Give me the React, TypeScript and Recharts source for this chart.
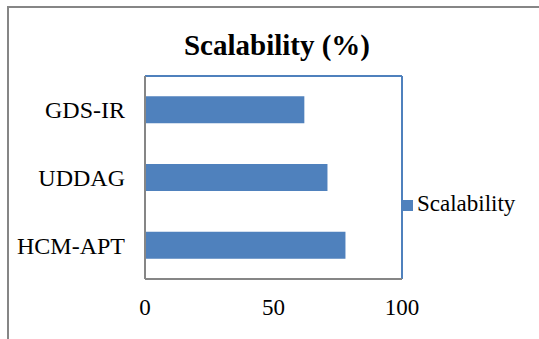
import { Bar, BarChart, CartesianGrid, Legend, XAxis, YAxis } from "recharts";

const methods = ["GDS-IR", "UDDAG", "HCM-APT"];
const scalability = [62, 71, 78];
const xTicks = [0, 50, 100];

const data = methods.map((name, i) => ({ name, scalability: scalability[i] }));

const BLUE = "#4F81BD";
const GREY = "#868686";
const FONT = "'Liberation Serif', 'Times New Roman', Tinos, 'DejaVu Serif', serif";

export default function App() {
  return (
    <div
      style={{
        position: "absolute",
        left: 0,
        top: 0,
        width: 539,
        height: 339,
        overflow: "hidden",
        background: "#fff",
        fontFamily: FONT,
      }}
    >
      {/* outer frame, runs off the right and bottom edges */}
      <div
        style={{
          position: "absolute",
          left: 7,
          top: 6,
          width: 800,
          height: 600,
          border: `2px solid ${GREY}`,
          boxSizing: "border-box",
        }}
      />
      <div
        style={{
          position: "absolute",
          left: 0,
          width: 554,
          top: 30,
          textAlign: "center",
          fontSize: 29,
          fontWeight: "bold",
          color: "#000",
          lineHeight: "30px",
        }}
      >
        Scalability (%)
      </div>
      <div style={{ position: "absolute", left: 0, top: 0 }}>
        <BarChart
          width={539}
          height={339}
          data={data}
          layout="vertical"
          margin={{ top: 76, right: 137, bottom: 30, left: 0 }}
          barCategoryGap="30%"
        >
          {/* top and right edges of the plot frame */}
          <CartesianGrid
            stroke={BLUE}
            strokeWidth={2}
            horizontalCoordinatesGenerator={({ offset }: any) => [offset.top]}
            verticalCoordinatesGenerator={({ offset }: any) => [offset.left + offset.width]}
          />
          <XAxis
            type="number"
            domain={[0, 100]}
            ticks={xTicks}
            height={30}
            axisLine={{ stroke: GREY, strokeWidth: 2 }}
            tickLine={false}
            tickSize={0}
            tickMargin={20}
            tick={{ fill: "#000", fontSize: 23, fontFamily: FONT }}
          />
          <YAxis
            type="category"
            dataKey="name"
            width={145}
            axisLine={{ stroke: GREY, strokeWidth: 2 }}
            tickLine={false}
            tickSize={0}
            tickMargin={20}
            tick={{ fill: "#000", fontSize: 24, fontFamily: FONT }}
          />
          <Legend
            layout="vertical"
            verticalAlign="middle"
            align="center"
            iconType="square"
            iconSize={11}
            wrapperStyle={{ left: 402, top: 191, width: 135, fontSize: 23, fontFamily: FONT }}
            formatter={() => <span style={{ color: "#000" }}>Scalability</span>}
          />
          <Bar dataKey="scalability" name="Scalability" fill={BLUE} isAnimationActive={false} />
        </BarChart>
      </div>
    </div>
  );
}
